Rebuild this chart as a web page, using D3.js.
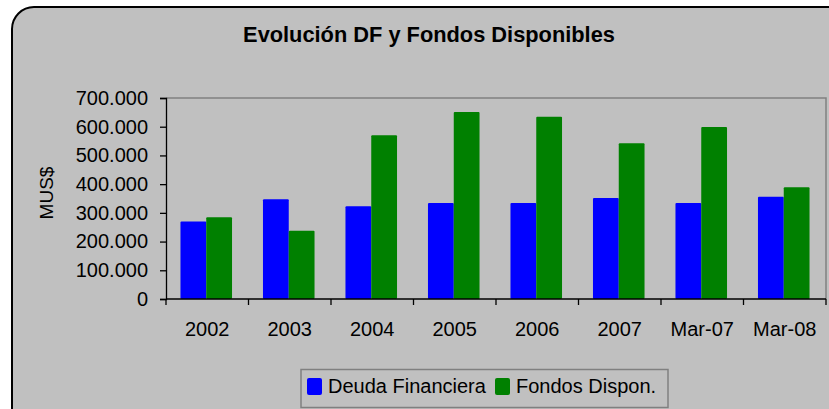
<!DOCTYPE html>
<html>
<head>
<meta charset="utf-8">
<script src="https://cdn.jsdelivr.net/npm/d3@7"></script>
<style>
  body { margin: 0; background: #ffffff; }
  svg { display: block; font-family: "Liberation Sans", Arial, sans-serif; }
</style>
</head>
<body>
<div id="chart"></div>
<script>
// chart data
const categories = ["2002", "2003", "2004", "2005", "2006", "2007", "Mar-07", "Mar-08"];
const deudaFinanciera = [270000, 347000, 323000, 334000, 334000, 352000, 334000, 356000];
const fondosDispon = [285000, 238000, 570000, 651000, 635000, 542000, 599000, 389000];
const yTicks = [0, 100000, 200000, 300000, 400000, 500000, 600000, 700000];
const seriesNames = ["Deuda Financiera", "Fondos Dispon."];
const seriesColors = ["#0000ff", "#008000"];

function drawChart() {
  const width = 829, height = 409;
  const plot = { left: 166, right: 826, top: 98, bottom: 299 };

  const svg = d3.select("#chart").append("svg")
    .attr("width", width)
    .attr("height", height);

  // outer rounded frame
  svg.append("rect")
    .attr("x", 12).attr("y", 7)
    .attr("width", 840).attr("height", 430)
    .attr("rx", 22)
    .attr("fill", "#c0c0c0")
    .attr("stroke", "#000")
    .attr("stroke-width", 2);

  svg.append("text")
    .attr("x", 429).attr("y", 42)
    .attr("text-anchor", "middle")
    .attr("font-size", "21.8px")
    .attr("font-weight", "bold")
    .text("Evolución DF y Fondos Disponibles");

  const x = d3.scaleBand()
    .domain(categories)
    .range([plot.left, plot.right])
    .paddingInner(0)
    .paddingOuter(0);

  // two bars per category, gap shared on both sides
  const inner = d3.scaleBand()
    .domain(seriesNames)
    .range([0, x.bandwidth()])
    .paddingInner(0)
    .paddingOuter(0.6);

  const y = d3.scaleLinear()
    .domain([0, 700000])
    .range([plot.bottom, plot.top]);

  // plot frame (top and right in grey)
  svg.append("path")
    .attr("d", `M${plot.left},${plot.top}H${plot.right}V${plot.bottom}`)
    .attr("fill", "none")
    .attr("stroke", "#808080")
    .attr("stroke-width", 1.5);

  // bars
  const series = [deudaFinanciera, fondosDispon];
  const groups = svg.selectAll("g.cat")
    .data(categories)
    .enter().append("g")
    .attr("class", "cat")
    .attr("transform", d => "translate(" + x(d) + ",0)");

  groups.selectAll("rect")
    .data((d, i) => seriesNames.map((s, k) => ({ s: s, k: k, v: series[k][i] })))
    .enter().append("rect")
    .attr("x", d => inner(d.s) - 1)
    .attr("width", inner.bandwidth())
    .attr("y", d => y(d.v))
    .attr("height", d => plot.bottom - y(d.v))
    .attr("rx", 1)
    .attr("fill", d => seriesColors[d.k]);

  // y axis
  const yAxis = svg.append("g")
    .attr("transform", "translate(" + plot.left + ",0)")
    .call(d3.axisLeft(y).tickValues(yTicks).tickSizeInner(6).tickSizeOuter(6)
      .tickPadding(12)
      .tickFormat(d => d3.format(",")(d).replace(/,/g, ".")));
  yAxis.selectAll("text").attr("font-size", "20px").attr("fill", "#000").attr("font-family", "Liberation Sans, Arial, sans-serif");
  yAxis.selectAll("line").attr("stroke", "#000").attr("stroke-width", 1.3);
  yAxis.select(".domain").attr("stroke", "#000").attr("stroke-width", 1.3);

  // x axis, ticks at category boundaries
  const xAxis = svg.append("g")
    .attr("transform", "translate(0," + plot.bottom + ")");
  xAxis.append("line")
    .attr("x1", plot.left).attr("x2", plot.right)
    .attr("stroke", "#000").attr("stroke-width", 1.3);
  xAxis.selectAll("line.tick")
    .data(categories.concat(["end"]))
    .enter().append("line")
    .attr("class", "tick")
    .attr("x1", (d, i) => i < categories.length ? x(d) : plot.right)
    .attr("x2", (d, i) => i < categories.length ? x(d) : plot.right)
    .attr("y1", 0).attr("y2", 6)
    .attr("stroke", "#000").attr("stroke-width", 1.3);
  xAxis.selectAll("text")
    .data(categories)
    .enter().append("text")
    .attr("x", d => x(d) + x.bandwidth() / 2)
    .attr("y", 37)
    .attr("text-anchor", "middle")
    .attr("font-size", "20px")
    .text(d => d);

  // y axis title
  svg.append("text")
    .attr("transform", "translate(53,193) rotate(-90)")
    .attr("text-anchor", "middle")
    .attr("font-size", "19px")
    .text("MUS$");

  // legend
  const legend = svg.append("g");
  legend.append("rect")
    .attr("x", 301).attr("y", 369.5)
    .attr("width", 367).attr("height", 38)
    .attr("fill", "#c0c0c0")
    .attr("stroke", "#808080")
    .attr("stroke-width", 1.5);
  const legendX = [307, 495];
  seriesNames.forEach((s, k) => {
    legend.append("rect")
      .attr("x", legendX[k]).attr("y", 378)
      .attr("width", 15).attr("height", 17)
      .attr("rx", 2)
      .attr("fill", seriesColors[k]);
    legend.append("text")
      .attr("x", legendX[k] + 21).attr("y", 393)
      .attr("font-size", "20px")
      .text(s);
  });
}

drawChart();
</script>
</body>
</html>
